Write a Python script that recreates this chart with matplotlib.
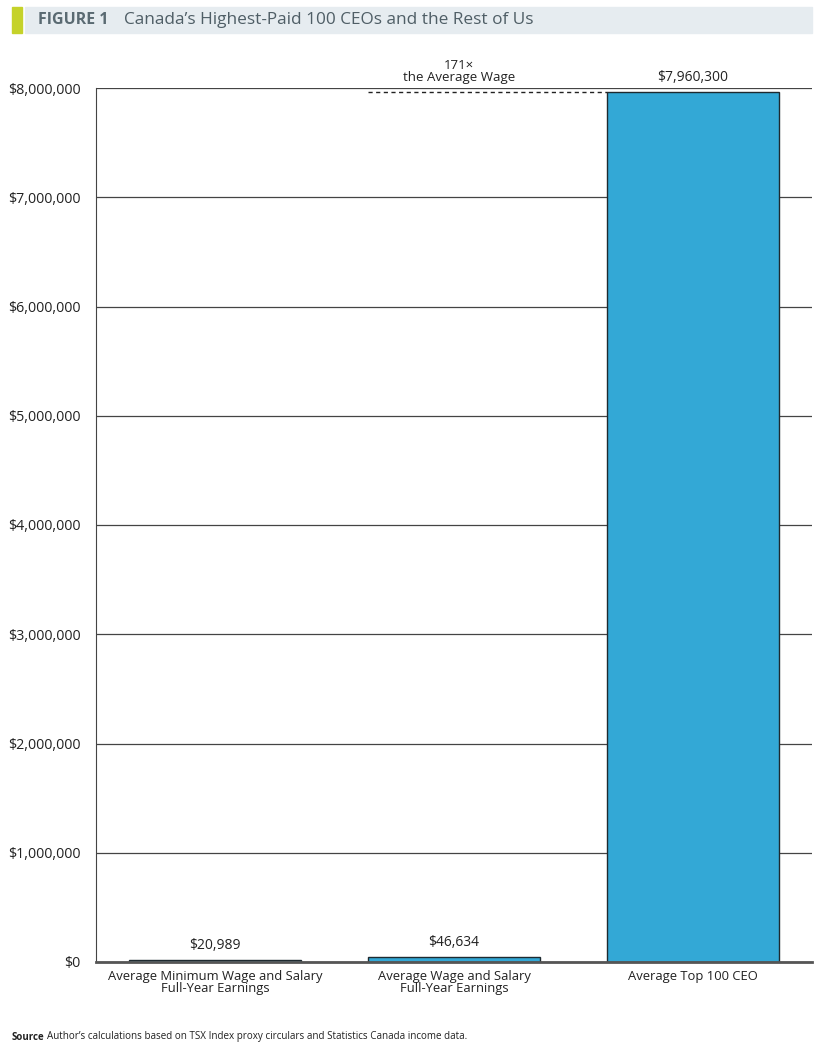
import matplotlib.pyplot as plt
from matplotlib.patches import Rectangle
from matplotlib.ticker import FuncFormatter

plt.rcParams['font.family'] = ['Open Sans', 'DejaVu Sans']

categories = ['Average Minimum Wage and Salary\nFull-Year Earnings',
              'Average Wage and Salary\nFull-Year Earnings',
              'Average Top 100 CEO']
values = [20989, 46634, 7960300]
value_labels = ['$20,989', '$46,634', '$7,960,300']
yticks = [0, 1000000, 2000000, 3000000, 4000000, 5000000, 6000000, 7000000, 8000000]
multiple_label = '171\u00d7\nthe Average Wage'

bar_color = '#33A8D6'

fig = plt.figure(figsize=(8.27, 10.46), dpi=100)

# title band
fig.patches.append(Rectangle((25 / 827, 1 - 33 / 1046), (812 - 25) / 827, 26 / 1046,
                             transform=fig.transFigure, color='#E6ECF0', zorder=0))
fig.patches.append(Rectangle((12 / 827, 1 - 33 / 1046), 10 / 827, 26 / 1046,
                             transform=fig.transFigure, color='#C5D22A', zorder=0))
fig.text(38 / 827, 1 - 20 / 1046, 'FIGURE 1', fontsize=11.5, fontweight='bold',
         color='#5A6A72', va='center', ha='left')
fig.text(124 / 827, 1 - 20 / 1046, 'Canada\u2019s Highest-Paid 100 CEOs and the Rest of Us',
         fontsize=12.4, color='#4F5E66', va='center', ha='left')

ax = fig.add_axes([96 / 827, 84 / 1046, (812 - 96) / 827, (962 - 88) / 1046])
x = range(len(categories))
ax.bar(x, values, width=0.72, color=bar_color, edgecolor='#1E2A30', linewidth=1.0, zorder=3)

for xi, v, lab in zip(x, values, value_labels):
    ax.annotate(lab, (xi, v), xytext=(0, 5), textcoords='offset points',
                ha='center', va='bottom', fontsize=10, color='#222222')

# dashed comparison line from the average wage bar to the CEO bar
ax.plot([1 - 0.36, 2 - 0.36], [values[2], values[2]], linestyle=(0, (3, 2.5)),
        color='#222222', linewidth=1.0, zorder=4)
ax.annotate(multiple_label, (1.02, values[2]), xytext=(0, 6), textcoords='offset points',
            ha='center', va='bottom', fontsize=9.5, color='#222222', linespacing=0.95)

ax.set_xlim(-0.5, 2.5)
ax.set_ylim(0, 8000000)
ax.set_yticks(yticks)
ax.yaxis.set_major_formatter(FuncFormatter(lambda v, p: '${:,.0f}'.format(v)))
ax.set_xticks(list(x))
ax.set_xticklabels(categories, fontsize=9.4, linespacing=0.9, color='#222222')
ax.tick_params(axis='y', length=0, labelsize=10.3, labelcolor='#222222', pad=11)
ax.tick_params(axis='x', length=0, pad=6)
ax.grid(axis='y', color='#444444', linewidth=0.9, zorder=0)
ax.set_axisbelow(True)
for s in ['top', 'right']:
    ax.spines[s].set_visible(False)
ax.spines['left'].set_color('#444444')
ax.spines['bottom'].set_color('#555555')
ax.spines['bottom'].set_linewidth(2)
ax.spines['bottom'].set_zorder(5)

fig.text(12 / 827, 1 - 1037 / 1046, 'Source', fontsize=7, fontweight='bold', color='#222222',
         va='center', ha='left')
fig.text(47 / 827, 1 - 1037 / 1046,
         'Author\u2019s calculations based on TSX Index proxy circulars and Statistics Canada income data.',
         fontsize=7.1, color='#222222', va='center', ha='left')

fig.savefig('out.png', dpi=100)
